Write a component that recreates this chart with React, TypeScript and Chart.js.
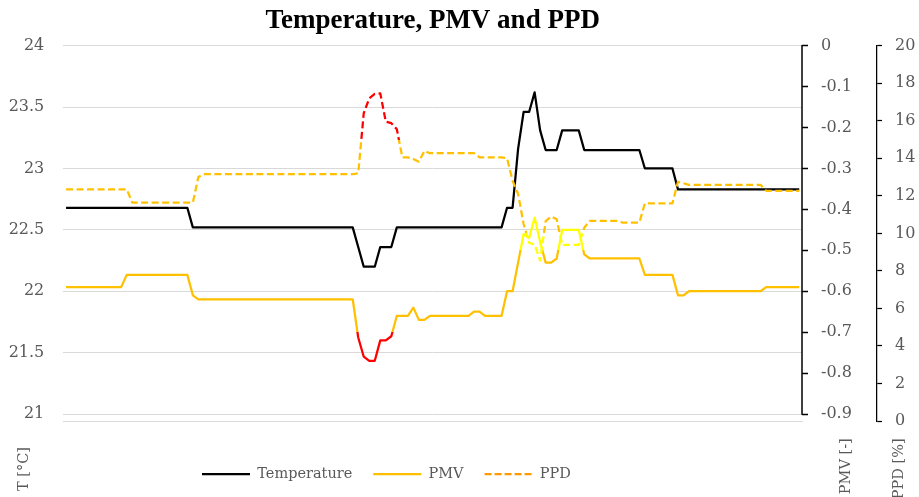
import React, { useEffect, useRef } from 'react';
import { Chart, registerables } from 'chart.js';

Chart.register(...registerables);

// ---------- data ----------
const TEMPERATURE = [
  22.68, 22.68, 22.68, 22.68, 22.68, 22.68, 22.68, 22.68, 22.68, 22.68,
  22.68, 22.68, 22.68, 22.68, 22.68, 22.68, 22.68, 22.68, 22.68, 22.68,
  22.68, 22.68, 22.68, 22.52, 22.52, 22.52, 22.52, 22.52, 22.52, 22.52,
  22.52, 22.52, 22.52, 22.52, 22.52, 22.52, 22.52, 22.52, 22.52, 22.52,
  22.52, 22.52, 22.52, 22.52, 22.52, 22.52, 22.52, 22.52, 22.52, 22.52,
  22.52, 22.52, 22.52, 22.36, 22.2, 22.2, 22.2, 22.36, 22.36, 22.36,
  22.52, 22.52, 22.52, 22.52, 22.52, 22.52, 22.52, 22.52, 22.52, 22.52,
  22.52, 22.52, 22.52, 22.52, 22.52, 22.52, 22.52, 22.52, 22.52, 22.52,
  22.68, 22.68, 23.16, 23.46, 23.46, 23.62, 23.31, 23.15, 23.15, 23.15,
  23.31, 23.31, 23.31, 23.31, 23.15, 23.15, 23.15, 23.15, 23.15, 23.15,
  23.15, 23.15, 23.15, 23.15, 23.15, 23.0, 23.0, 23.0, 23.0, 23.0,
  23.0, 22.83, 22.83, 22.83, 22.83, 22.83, 22.83, 22.83, 22.83, 22.83,
  22.83, 22.83, 22.83, 22.83, 22.83, 22.83, 22.83, 22.83, 22.83, 22.83,
  22.83, 22.83, 22.83, 22.83,
];

const PMV = [
  -0.59, -0.59, -0.59, -0.59, -0.59, -0.59, -0.59, -0.59, -0.59, -0.59,
  -0.59, -0.56, -0.56, -0.56, -0.56, -0.56, -0.56, -0.56, -0.56, -0.56,
  -0.56, -0.56, -0.56, -0.61, -0.62, -0.62, -0.62, -0.62, -0.62, -0.62,
  -0.62, -0.62, -0.62, -0.62, -0.62, -0.62, -0.62, -0.62, -0.62, -0.62,
  -0.62, -0.62, -0.62, -0.62, -0.62, -0.62, -0.62, -0.62, -0.62, -0.62,
  -0.62, -0.62, -0.62, -0.713, -0.76, -0.77, -0.77, -0.72, -0.72, -0.71,
  -0.66, -0.66, -0.66, -0.64, -0.67, -0.67, -0.66, -0.66, -0.66, -0.66,
  -0.66, -0.66, -0.66, -0.66, -0.65, -0.65, -0.66, -0.66, -0.66, -0.66,
  -0.6, -0.6, -0.53, -0.46, -0.47, -0.42, -0.48, -0.53, -0.53, -0.52,
  -0.45, -0.45, -0.45, -0.45, -0.51, -0.52, -0.52, -0.52, -0.52, -0.52,
  -0.52, -0.52, -0.52, -0.52, -0.52, -0.56, -0.56, -0.56, -0.56, -0.56,
  -0.56, -0.61, -0.61, -0.6, -0.6, -0.6, -0.6, -0.6, -0.6, -0.6,
  -0.6, -0.6, -0.6, -0.6, -0.6, -0.6, -0.6, -0.59, -0.59, -0.59,
  -0.59, -0.59, -0.59, -0.59,
];

const PPD = [
  12.35, 12.35, 12.35, 12.35, 12.35, 12.35, 12.35, 12.35, 12.35, 12.35,
  12.35, 12.35, 11.64, 11.64, 11.64, 11.64, 11.64, 11.64, 11.64, 11.64,
  11.64, 11.64, 11.64, 11.64, 13.0, 13.15, 13.15, 13.15, 13.15, 13.15,
  13.15, 13.15, 13.15, 13.15, 13.15, 13.15, 13.15, 13.15, 13.15, 13.15,
  13.15, 13.15, 13.15, 13.15, 13.15, 13.15, 13.15, 13.15, 13.15, 13.15,
  13.15, 13.15, 13.15, 13.2, 16.4, 17.2, 17.43, 17.46, 15.95, 15.87,
  15.55, 14.05, 14.05, 13.96, 13.82, 14.4, 14.27, 14.27, 14.27, 14.27,
  14.27, 14.27, 14.27, 14.27, 14.27, 14.05, 14.05, 14.05, 14.05, 14.05,
  14.0, 12.8, 12.1, 10.5, 9.5, 9.4, 8.55, 10.65, 10.9, 10.75,
  9.38, 9.38, 9.38, 9.38, 10.3, 10.66, 10.66, 10.66, 10.66, 10.66,
  10.66, 10.57, 10.57, 10.57, 10.57, 11.6, 11.6, 11.6, 11.6, 11.6,
  11.6, 12.75, 12.67, 12.58, 12.58, 12.58, 12.58, 12.58, 12.58, 12.58,
  12.58, 12.58, 12.58, 12.58, 12.58, 12.58, 12.58, 12.27, 12.27, 12.27,
  12.27, 12.27, 12.27, 12.27,
];

const CATEGORIES = TEMPERATURE.map((_, i) => String(i + 1));

const T_TICKS = [21, 21.5, 22, 22.5, 23, 23.5, 24];
const PMV_TICKS = [-0.9, -0.8, -0.7, -0.6, -0.5, -0.4, -0.3, -0.2, -0.1, 0];
const PPD_TICKS = [0, 2, 4, 6, 8, 10, 12, 14, 16, 18, 20];

const SERIES_NAMES = ['Temperature', 'PMV', 'PPD'];
const AXIS_TITLES = ['T [°C]', 'PMV [-]', 'PPD [%]'];
const CHART_TITLE = 'Temperature, PMV and PPD';

// comfort class limits used for colouring (category B / C boundaries)
const PMV_LIMITS = { yellowAbove: -0.5, redBelow: -0.7 };
const PPD_LIMITS = { yellowBelow: 10, redAbove: 15 };

// ---------- styles ----------
const W = 919;
const H = 497;
const GRAY = '#595959';
const GRID = '#d9d9d9';
const ORANGE = '#FFC000';
const YELLOW = '#FFFF00';
const RED = '#FF0000';
const SERIF = "'DejaVu Serif', serif";
const DASH = [7, 3.5];

function bandGradient(chart: any, scaleId: string, topToBottom: Array<[number, string]>, lastColor: string) {
  const { ctx, chartArea, scales } = chart;
  if (!chartArea || !scales[scaleId]) return ORANGE;
  const s = scales[scaleId];
  const top = chartArea.top;
  const h = chartArea.bottom - chartArea.top;
  const g = ctx.createLinearGradient(0, chartArea.top, 0, chartArea.bottom);
  let prev = 0;
  for (const [value, color] of topToBottom) {
    const f = Math.min(1, Math.max(0, (s.getPixelForValue(value) - top) / h));
    g.addColorStop(prev, color);
    g.addColorStop(f, color);
    prev = f;
  }
  g.addColorStop(prev, lastColor);
  g.addColorStop(1, lastColor);
  return g;
}

const axisDecor = {
  id: 'axisDecor',
  afterLayout(chart: any) {
    const lg = chart.legend;
    if (lg) {
      const w = lg.right - lg.left;
      lg.left = 202 - 21;
      lg.right = lg.left + w;
    }
  },
  afterDraw(chart: any) {
    const { ctx, chartArea, scales } = chart;
    const pmv = scales.yPMV;
    const ppd = scales.yPPD;
    ctx.save();
    // PMV axis line (from 0 to -0.9)
    ctx.strokeStyle = '#000';
    ctx.lineWidth = 1.5;
    ctx.beginPath();
    const x = Math.round(pmv.left);
    ctx.moveTo(x, pmv.getPixelForValue(0) - 0.75);
    ctx.lineTo(x, pmv.getPixelForValue(-0.9) + 0.75);
    ctx.stroke();

    // rotated axis titles
    ctx.fillStyle = GRAY;
    ctx.font = `14.5px ${SERIF}`;
    ctx.textBaseline = 'middle';
    const drawRot = (text: string, px: number, py: number, align: CanvasTextAlign) => {
      ctx.save();
      ctx.translate(px, py);
      ctx.rotate(-Math.PI / 2);
      ctx.textAlign = align;
      ctx.fillText(text, 0, 0);
      ctx.restore();
    };
    drawRot(AXIS_TITLES[0], 24.5, chartArea.bottom + 70, 'left');
    drawRot(AXIS_TITLES[1], pmv.left + 44, chartArea.bottom + 17.3, 'right');
    drawRot(AXIS_TITLES[2], ppd.left + 22, chartArea.bottom + 17.3, 'right');
    ctx.restore();
  },
};

export default function App() {
  const ref = useRef<HTMLCanvasElement>(null);

  useEffect(() => {
    if (!ref.current) return;
    const chart = new Chart(ref.current, {
      type: 'line',
      data: {
        labels: CATEGORIES,
        datasets: [
          {
            label: SERIES_NAMES[0],
            data: TEMPERATURE,
            yAxisID: 'yT',
            borderColor: '#000',
            borderWidth: 2.25,
            pointRadius: 0,
            tension: 0,
            borderJoinStyle: 'round',
            order: 3,
          },
          {
            label: SERIES_NAMES[1],
            data: PMV,
            yAxisID: 'yPMV',
            borderColor: (c: any) =>
              bandGradient(c.chart, 'yPMV', [[PMV_LIMITS.yellowAbove, YELLOW], [PMV_LIMITS.redBelow, ORANGE]], RED),
            borderWidth: 2.25,
            pointRadius: 0,
            tension: 0,
            borderJoinStyle: 'round',
            order: 2,
          },
          {
            label: SERIES_NAMES[2],
            data: PPD,
            yAxisID: 'yPPD',
            borderColor: (c: any) =>
              bandGradient(c.chart, 'yPPD', [[PPD_LIMITS.redAbove, RED], [PPD_LIMITS.yellowBelow, ORANGE]], YELLOW),
            borderWidth: 2.25,
            borderDash: DASH,
            pointRadius: 0,
            tension: 0,
            borderJoinStyle: 'round',
            order: 1,
          },
        ],
      },
      options: {
        responsive: false,
        animation: false,
        events: [],
        layout: { padding: { top: 0, left: 0, right: 0, bottom: 5.75 } },
        plugins: {
          tooltip: { enabled: false },
          title: {
            display: true,
            text: CHART_TITLE,
            color: '#000',
            fullSize: false,
            font: { family: "'Liberation Serif', 'Times New Roman', serif", size: 27, weight: 'bold', lineHeight: 1.2 },
            padding: { top: 5, bottom: 8.3 },
          },
          legend: {
            display: true,
            position: 'bottom',
            align: 'start',
            labels: {
              usePointStyle: true,
              pointStyleWidth: 48,
              padding: 21,
              color: GRAY,
              font: { family: SERIF, size: 14.5 },
              generateLabels: () => [
                { text: SERIES_NAMES[0], strokeStyle: '#000', fillStyle: '#000', lineWidth: 2.25, lineDash: [], pointStyle: 'line', hidden: false, datasetIndex: 0, fontColor: GRAY },
                { text: SERIES_NAMES[1], strokeStyle: ORANGE, fillStyle: ORANGE, lineWidth: 2.25, lineDash: [], pointStyle: 'line', hidden: false, datasetIndex: 1, fontColor: GRAY },
                { text: SERIES_NAMES[2], strokeStyle: '#FF9A00', fillStyle: '#FF9A00', lineWidth: 2.25, lineDash: [7, 3], pointStyle: 'line', hidden: false, datasetIndex: 2, fontColor: GRAY },
              ],
            },
          },
        },
        scales: {
          x: {
            type: 'category',
            offset: true,
            ticks: { display: false },
            grid: { display: false },
            border: { display: true, color: GRID, width: 1 },
            afterFit: (s: any) => { s.height = 24.75; },
          },
          yT: {
            type: 'linear',
            position: 'left',
            min: 20.943,
            max: 24,
            afterBuildTicks: (s: any) => { s.ticks = T_TICKS.map((v) => ({ value: v })); },
            ticks: { callback: (v: any) => String(v), color: GRAY, font: { family: SERIF, size: 16 }, padding: 19 },
            grid: { color: GRID, lineWidth: 1, drawTicks: false },
            border: { display: false },
            afterFit: (s: any) => { s.width = 63.3; },
          },
          yPMV: {
            type: 'linear',
            position: 'right',
            weight: 0,
            min: -0.9171,
            max: 0,
            afterBuildTicks: (s: any) => { s.ticks = PMV_TICKS.map((v) => ({ value: v })); },
            ticks: { callback: (v: any) => String(v), color: GRAY, font: { family: SERIF, size: 16 }, padding: 13 },
            grid: { drawOnChartArea: false, drawTicks: true, tickLength: 6, tickColor: '#000', tickWidth: 1.5 },
            border: { display: false },
            afterFit: (s: any) => { s.width = 75; },
          },
          yPPD: {
            type: 'linear',
            position: 'right',
            weight: 1,
            min: 0,
            max: 20,
            afterBuildTicks: (s: any) => { s.ticks = PPD_TICKS.map((v) => ({ value: v })); },
            ticks: { callback: (v: any) => String(v), color: GRAY, font: { family: SERIF, size: 16 }, padding: 13 },
            grid: { drawOnChartArea: false, drawTicks: true, tickLength: 5, tickColor: '#000', tickWidth: 1.25 },
            border: { display: true, color: '#000', width: 1.25, dash: [3, 3] },
            afterFit: (s: any) => { s.width = 42; },
          },
        },
      },
      plugins: [axisDecor],
    } as any);
    return () => chart.destroy();
  }, []);

  return (
    <div style={{ position: 'absolute', left: 0, top: 0, width: W, height: H, background: '#fff' }}>
      <canvas ref={ref} width={W} height={H} style={{ display: 'block', width: W, height: H }} />
    </div>
  );
}
